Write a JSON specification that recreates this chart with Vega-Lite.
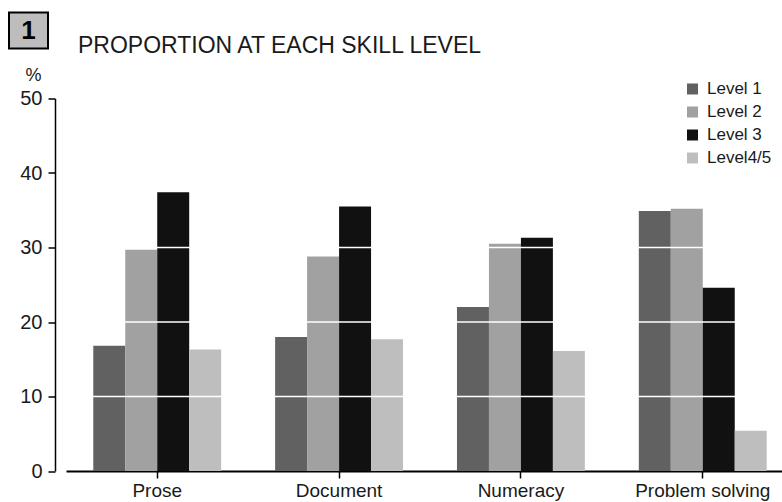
{
  "$schema": "https://vega.github.io/schema/vega-lite/v6.json",
  "width": 716,
  "height": 372.5,
  "autosize": {"type": "none"},
  "padding": {"left": 66, "top": 98.5, "right": 0, "bottom": 31},
  "background": "white",
  "config": {
    "view": {"stroke": null},
    "font": "Liberation Sans",
    "legend": {"strokeWidth": 2}
  },
  "title": {
    "text": "PROPORTION AT EACH SKILL LEVEL",
    "anchor": "start",
    "frame": "group",
    "dx": 12,
    "offset": -46,
    "font": "Liberation Sans",
    "fontSize": 23,
    "fontWeight": "normal",
    "color": "#1a1a1a"
  },
  "layer": [
    {
      "data": {
        "values": [
          {"skill": "Prose", "level": "Level 1", "value": 16.8},
          {"skill": "Prose", "level": "Level 2", "value": 29.7},
          {"skill": "Prose", "level": "Level 3", "value": 37.4},
          {"skill": "Prose", "level": "Level4/5", "value": 16.3},
          {"skill": "Document", "level": "Level 1", "value": 18.0},
          {"skill": "Document", "level": "Level 2", "value": 28.8},
          {"skill": "Document", "level": "Level 3", "value": 35.5},
          {"skill": "Document", "level": "Level4/5", "value": 17.7},
          {"skill": "Numeracy", "level": "Level 1", "value": 22.0},
          {"skill": "Numeracy", "level": "Level 2", "value": 30.5},
          {"skill": "Numeracy", "level": "Level 3", "value": 31.3},
          {"skill": "Numeracy", "level": "Level4/5", "value": 16.1},
          {"skill": "Problem solving", "level": "Level 1", "value": 34.9},
          {"skill": "Problem solving", "level": "Level 2", "value": 35.2},
          {"skill": "Problem solving", "level": "Level 3", "value": 24.6},
          {"skill": "Problem solving", "level": "Level4/5", "value": 5.4}
        ]
      },
      "mark": {"type": "bar"},
      "encoding": {
        "x": {
          "field": "skill",
          "type": "nominal",
          "sort": ["Prose", "Document", "Numeracy", "Problem solving"],
          "scale": {"range": [0, 728], "paddingInner": 0.2967, "paddingOuter": 0.15},
          "axis": {
            "title": null,
            "labelAngle": 0,
            "labelFontSize": 19,
            "labelColor": "#1a1a1a",
            "labelPadding": 3,
            "domainColor": "#000",
            "domainWidth": 2,
            "tickColor": "#000",
            "tickSize": 7,
            "tickWidth": 1.5
          }
        },
        "xOffset": {
          "field": "level",
          "type": "nominal",
          "sort": ["Level 1", "Level 2", "Level 3", "Level4/5"],
          "scale": {"paddingInner": 0, "paddingOuter": 0}
        },
        "y": {
          "field": "value",
          "type": "quantitative",
          "scale": {"domain": [0, 50], "nice": false},
          "axis": {
            "title": "%",
            "titleAngle": 0,
            "titleFontSize": 18,
            "titleFontWeight": "normal",
            "titleColor": "#1a1a1a",
            "titleAlign": "center",
            "titleBaseline": "middle",
            "titleX": -22,
            "titleY": -23,
            "values": [0, 10, 20, 30, 40, 50],
            "offset": 11,
            "grid": false,
            "labelFontSize": 20,
            "labelColor": "#1a1a1a",
            "labelPadding": 6,
            "domainColor": "#000",
            "domainWidth": 1.5,
            "tickColor": "#000",
            "tickSize": 7,
            "tickWidth": 1.5
          }
        },
        "color": {
          "field": "level",
          "type": "nominal",
          "scale": {
            "domain": ["Level 1", "Level 2", "Level 3", "Level4/5"],
            "range": ["#616161", "#a1a1a1", "#111111", "#bebebe"]
          },
          "legend": {
            "title": null,
            "orient": "none",
            "legendX": 618,
            "legendY": -18,
            "padding": 0,
            "symbolType": "square",
            "symbolSize": 121,
            "symbolStrokeWidth": 0,
            "labelFontSize": 17,
            "labelColor": "#1a1a1a",
            "labelOffset": 6,
            "rowPadding": 5
          }
        }
      }
    },
    {
      "data": {"values": [{"g": 10}, {"g": 20}, {"g": 30}, {"g": 40}]},
      "mark": {"type": "rule", "color": "white", "strokeWidth": 1.5},
      "encoding": {
        "y": {"field": "g", "type": "quantitative"},
        "opacity": {
          "datum": "badge",
          "type": "nominal",
          "scale": {"range": [1]},
          "legend": {
            "title": "\u200b\u00a01\u00a0\u200b",
            "values": [],
            "orient": "none",
            "legendX": -57,
            "legendY": -86,
            "padding": 5,
            "fillColor": "#bdbdbd",
            "strokeColor": "#000",
            "titleFontSize": 26,
            "titleFontWeight": "bold",
            "titleColor": "#000",
            "titlePadding": 0,
            "titleFont": "Liberation Sans"
          }
        }
      }
    }
  ]
}
